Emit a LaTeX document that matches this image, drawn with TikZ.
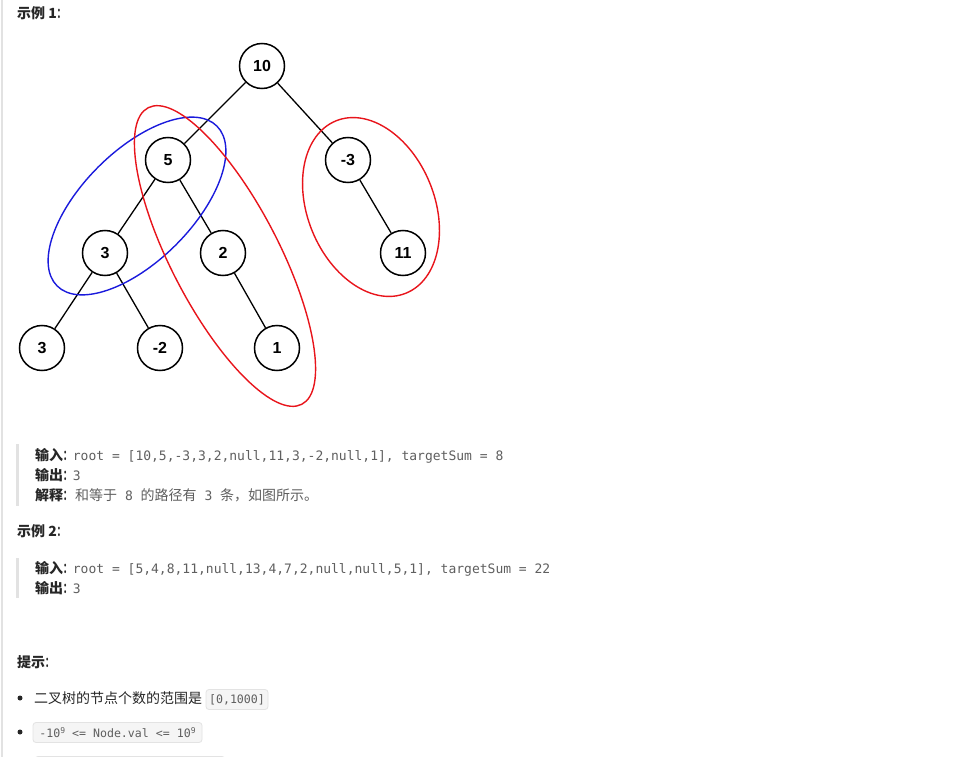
\documentclass[tikz,border=0pt]{standalone}
\usepackage{fontspec}
\setmainfont{Liberation Sans}
\newfontfamily\cjk{Noto Sans CJK SC}
\newfontfamily\mono{DejaVu Sans Mono}
\definecolor{txtdark}{HTML}{262626}
\definecolor{codegray}{HTML}{5F5F5F}
\definecolor{redring}{HTML}{E8141B}
\definecolor{bluering}{HTML}{1A1ADC}
\definecolor{barcol}{HTML}{E2E2E2}
\definecolor{boxfill}{HTML}{F5F5F5}
\definecolor{boxline}{HTML}{E3E3E3}
\newcommand{\ncolon}{\scalebox{0.62}[1]{：}}
\begin{document}
\begin{tikzpicture}[x=1pt,y=1pt,
  tn/.style={circle,draw=black,line width=1.5pt,minimum size=45pt,inner sep=0pt,
    font=\fontsize{16}{16}\selectfont\bfseries},
  edge/.style={line width=1.3pt},
  ring/.style={line width=1.4pt},
  lab/.style={anchor=base west,inner sep=0pt,text=txtdark,font=\fontsize{14}{16}\selectfont\cjk\bfseries},
  cjkt/.style={anchor=base west,inner sep=0pt,text=txtdark,font=\fontsize{14}{16}\selectfont\cjk},
  code/.style={anchor=base west,inner sep=0pt,text=codegray,font=\fontsize{13}{15}\selectfont\mono},
  codebox/.style={rounded corners=3pt,fill=boxfill,draw=boxline,line width=0.8pt,inner sep=0pt,
    minimum height=20pt,text=codegray,font=\fontsize{11.6}{13}\selectfont\mono},
  qbar/.style={draw=barcol,line width=2.5pt},
  dot/.style={circle,fill=txtdark,inner sep=0pt,minimum size=5pt}
]
\useasboundingbox (0,0) rectangle (972,-757);
\fill[white] (0,0) rectangle (972,-757);
\draw[draw=barcol,line width=2pt] (1.5,0) -- (1.5,-757);

% heading 1
\node[lab] (h1) at (17,-19) {示例 1\ncolon};

% tree
\node[tn] (n10) at (262,-66) {10};
\node[tn] (n5) at (168,-160) {5};
\node[tn] (nm3) at (348,-160) {-3};
\node[tn] (n3) at (105,-253) {3};
\node[tn] (n2) at (223,-253) {2};
\node[tn] (n11) at (403,-253) {11};
\node[tn] (n3b) at (42,-348) {3};
\node[tn] (nm2) at (160,-348) {-2};
\node[tn] (n1) at (277,-348) {1};
\draw[edge] (n10) -- (n5);
\draw[edge] (n10) -- (nm3);
\draw[edge] (n5) -- (n3);
\draw[edge] (n5) -- (n2);
\draw[edge] (nm3) -- (n11);
\draw[edge] (n3) -- (n3b);
\draw[edge] (n3) -- (nm2);
\draw[edge] (n2) -- (n1);

% rings
\draw[ring,draw=bluering,rotate around={45:(137,-206)}] (137,-206) ellipse [x radius=113,y radius=55];
\draw[ring,draw=redring,rotate around={-62.6:(225,-256)}] (225,-256) ellipse [x radius=167,y radius=54];
\draw[ring,draw=redring,rotate around={-67.9:(371,-207)}] (371,-207) ellipse [x radius=93,y radius=63.5];

% example 1 block
\draw[qbar] (17.5,-444) -- (17.5,-506);
\node[lab] (in1) at (35,-460) {输入\ncolon};
\node[code] (in1v) at (72.7,-460) {root = [10,5,-3,3,2,null,11,3,-2,null,1], targetSum = 8};
\node[lab] (out1) at (35,-480) {输出\ncolon};
\node[code] (out1v) at (72.7,-480) {3};
\node[lab] (ex1) at (35,-500) {解释\ncolon};
\node[cjkt,text=codegray] (ex1v) at (75,-500) {和等于{\mono\fontsize{13}{15}\selectfont\ 8\ }的路径有{\mono\fontsize{13}{15}\selectfont\ 3\ }条，如图所示。};

% example 2
\node[lab] (h2) at (17,-536) {示例 2\ncolon};
\draw[qbar] (17.5,-558) -- (17.5,-598);
\node[lab] (in2) at (35,-573) {输入\ncolon};
\node[code] (in2v) at (72.7,-573) {root = [5,4,8,11,null,13,4,7,2,null,null,5,1], targetSum = 22};
\node[lab] (out2) at (35,-593) {输出\ncolon};
\node[code] (out2v) at (72.7,-593) {3};

% hints
\node[lab] (h3) at (17,-667) {提示\ncolon};
\node[dot] (b1) at (20,-698) {};
\node[cjkt] (t1) at (34,-703) {二叉树的节点个数的范围是};
\node[codebox,minimum width=62pt] (c1) at (237,-699.5) {[0,1000]};
\node[dot] (b2) at (20,-732) {};
\node[codebox,minimum width=169pt] (c2) at (117.5,-732.5) {-10\raisebox{4pt}{\fontsize{8}{8}\selectfont 9} <= Node.val <= 10\raisebox{4pt}{\fontsize{8}{8}\selectfont 9}};
\draw[rounded corners=3pt,fill=boxfill,draw=boxline,line width=0.8pt] (35,-756.5) rectangle (225,-780);
\end{tikzpicture}
\end{document}
